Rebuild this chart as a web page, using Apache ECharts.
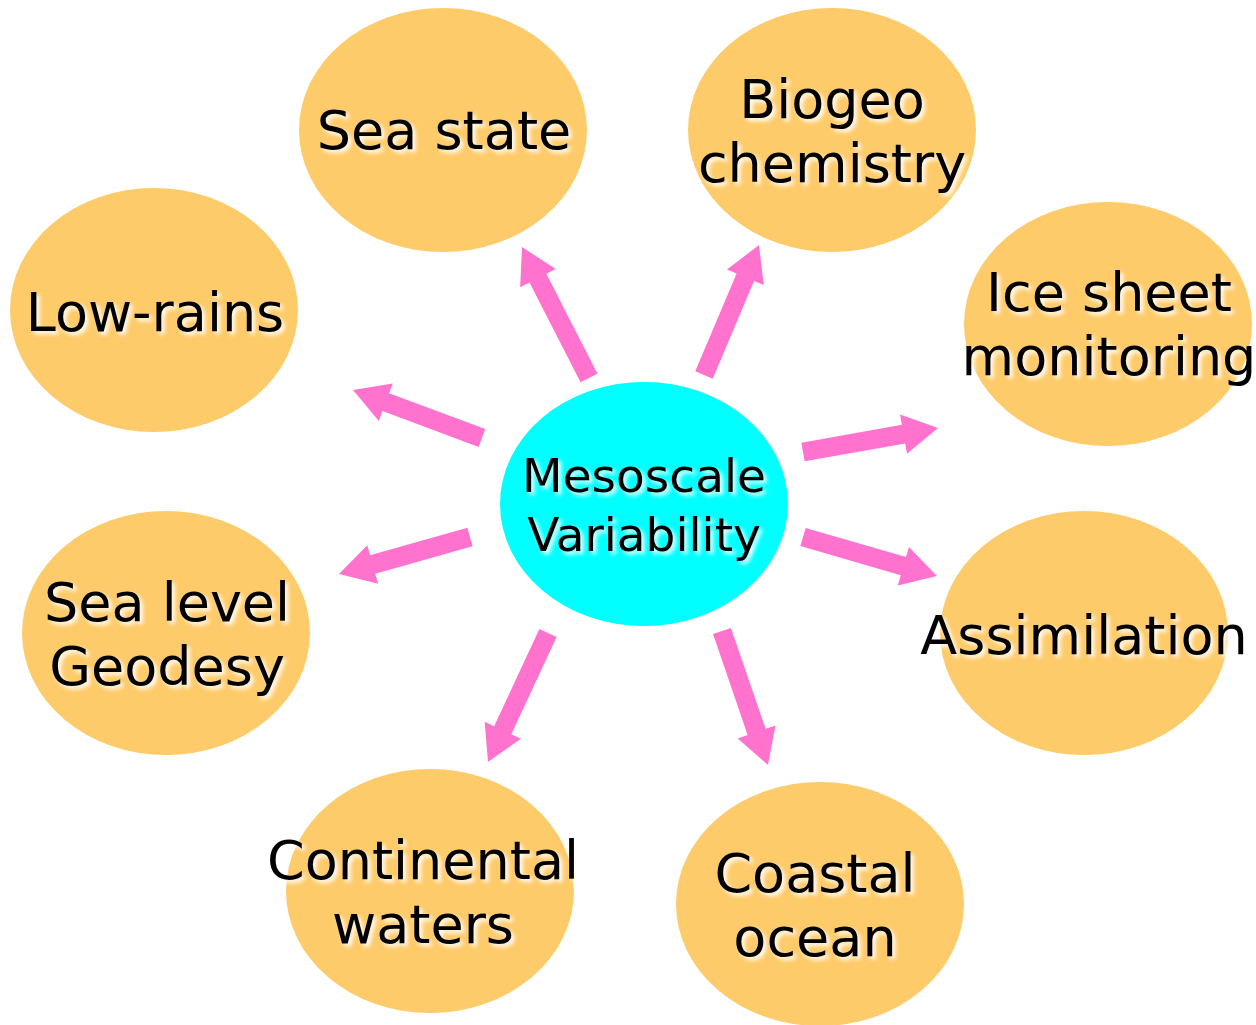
<!DOCTYPE html>
<html>
<head>
<meta charset="utf-8">
<script src="https://cdn.jsdelivr.net/npm/echarts@6/dist/echarts.min.js"></script>
<style>
  html, body { margin: 0; padding: 0; background: #ffffff; }
  #chart { width: 1256px; height: 1025px; }
</style>
</head>
<body>
<div id="chart"></div>
<script>
// bubbles: label text, centre, label centre
const nodeNames = ['Mesoscale\nVariability', 'Sea state', 'Biogeo\nchemistry', 'Low-rains',
  'Ice sheet\nmonitoring', 'Sea level\nGeodesy', 'Assimilation', 'Continental\nwaters', 'Coastal\nocean'];
const nodeX = [644, 443, 832, 154, 1108, 166, 1084, 430, 820];
const nodeY = [504, 130, 130, 310, 324, 633, 633, 891, 904];
const labelX = [644, 444, 832, 155, 1109, 167, 1084, 423, 815];
const labelY = [509, 135, 136, 317, 329, 639, 640, 897, 910];

// arrows: tail -> tip
const arrowFromX = [589, 704, 482, 470, 803, 803, 548, 722];
const arrowFromY = [378, 375, 438, 537, 452, 537, 633, 631];
const arrowToX = [522, 759, 353, 339, 938, 937, 488, 768];
const arrowToY = [247, 245, 390, 574, 428, 576, 762, 765];

const nodeData = nodeNames.map((n, i) => [nodeX[i], nodeY[i], labelX[i], labelY[i], n]);
const arrowData = arrowFromX.map((x, i) => [x, arrowFromY[i], arrowToX[i], arrowToY[i]]);

const chart = echarts.init(document.getElementById('chart'));

function renderNode(params, api) {
  const c = api.coord([api.value(0), api.value(1)]);
  const t = api.coord([api.value(2), api.value(3)]);
  const name = nodeNames[params.dataIndex];
  const centre = params.dataIndex === 0;
  const rx = 144, ry = 122;
  return {
    type: 'group',
    children: [
      {
        type: 'circle',
        x: c[0], y: c[1], scaleX: rx / ry, scaleY: 1,
        shape: { cx: 0, cy: 0, r: ry },
        style: { fill: centre ? '#00FFFF' : '#FECB6A' }
      },
      {
        type: 'text',
        style: {
          text: name,
          x: t[0], y: t[1],
          font: (centre ? 47 : 54) + 'px "DejaVu Sans"',
          fill: '#000000',
          align: 'center', verticalAlign: 'middle',
          textAlign: 'center', textVerticalAlign: 'middle',
          lineHeight: centre ? 59 : 64,
          textShadowColor: '#ffffff',
          textShadowBlur: 4,
          textShadowOffsetX: 3,
          textShadowOffsetY: 3
        }
      }
    ]
  };
}

function renderArrow(params, api) {
  const p0 = api.coord([api.value(0), api.value(1)]);
  const p1 = api.coord([api.value(2), api.value(3)]);
  const dx = p1[0] - p0[0], dy = p1[1] - p0[1];
  const len = Math.sqrt(dx * dx + dy * dy);
  const ux = dx / len, uy = dy / len;
  const nx = -uy, ny = ux;
  const hl = 35, hw = 20, sw = 9.5;
  const bx = p1[0] - ux * hl, by = p1[1] - uy * hl;
  const points = [
    [p0[0] + nx * sw, p0[1] + ny * sw],
    [bx + nx * sw, by + ny * sw],
    [bx + nx * hw, by + ny * hw],
    [p1[0], p1[1]],
    [bx - nx * hw, by - ny * hw],
    [bx - nx * sw, by - ny * sw],
    [p0[0] - nx * sw, p0[1] - ny * sw]
  ];
  return { type: 'polygon', shape: { points: points }, style: { fill: '#FF73CF' } };
}

chart.setOption({
  backgroundColor: '#ffffff',
  animation: false,
  grid: { left: 0, right: 0, top: 0, bottom: 0 },
  xAxis: { type: 'value', min: 0, max: 1256, show: false },
  yAxis: { type: 'value', min: 0, max: 1025, inverse: true, show: false },
  series: [
    {
      type: 'custom',
      renderItem: renderNode,
      data: nodeData,
      clip: false
    },
    {
      type: 'custom',
      renderItem: renderArrow,
      data: arrowData,
      clip: false
    }
  ]
});
</script>
</body>
</html>
